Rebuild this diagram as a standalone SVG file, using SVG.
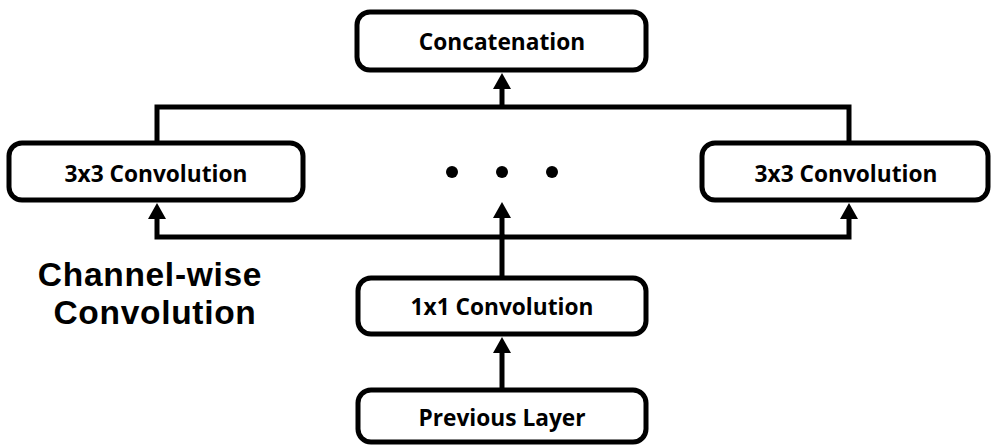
<svg xmlns="http://www.w3.org/2000/svg" width="992" height="445" viewBox="0 0 992 445">
  <style>
    .box { fill: #ffffff; stroke: #000000; stroke-width: 5; }
    .lbl { font-family: "Open Sans", "Liberation Sans", sans-serif; font-weight: bold; font-size: 22.7px; fill: #000000; text-anchor: middle; }
    .big { font-family: "Liberation Sans", Arial, sans-serif; font-weight: bold; font-size: 33.5px; letter-spacing: 0.7px; fill: #000000; text-anchor: middle; }
    .wire { fill: none; stroke: #000000; stroke-width: 5; }
  </style>
  <defs>
    <marker id="arrow" markerUnits="userSpaceOnUse" markerWidth="17" markerHeight="18" refX="1" refY="9" orient="auto">
      <path d="M0,0 L16,9 L0,18 Z" fill="#000000"/>
    </marker>
  </defs>

  <g id="connectors">
    <path class="wire" d="M157,143 V107 H849 V143"/>
    <path class="wire" d="M502,107 V88" marker-end="url(#arrow)"/>
    <path class="wire" d="M502,276 V237 H157 V218" marker-end="url(#arrow)"/>
    <path class="wire" d="M502,237 H849 V218" marker-end="url(#arrow)"/>
    <path class="wire" d="M502,237 V217" marker-end="url(#arrow)"/>
    <path class="wire" d="M502,388 V352" marker-end="url(#arrow)"/>
  </g>

  <g id="concatenation">
    <rect class="box" x="357" y="12" width="289" height="58" rx="13"/>
    <text class="lbl" x="502" y="50">Concatenation</text>
  </g>

  <g id="conv3x3-left">
    <rect class="box" x="9" y="143" width="294" height="57" rx="13"/>
    <text class="lbl" x="156" y="182">3x3 Convolution</text>
  </g>

  <g id="ellipsis">
    <circle cx="452" cy="172" r="6"/>
    <circle cx="502" cy="172" r="6"/>
    <circle cx="552" cy="172" r="6"/>
  </g>

  <g id="conv3x3-right">
    <rect class="box" x="702" y="143" width="286" height="57" rx="13"/>
    <text class="lbl" x="846" y="182">3x3 Convolution</text>
  </g>

  <g id="channel-wise-label">
    <text class="big"><tspan x="150" y="286">Channel-wise</tspan><tspan x="155" y="324">Convolution</tspan></text>
  </g>

  <g id="conv1x1">
    <rect class="box" x="358" y="278" width="288" height="56" rx="13"/>
    <text class="lbl" x="502" y="315">1x1 Convolution</text>
  </g>

  <g id="previous-layer">
    <rect class="box" x="358" y="390" width="288" height="52" rx="13"/>
    <text class="lbl" x="502" y="426">Previous Layer</text>
  </g>
</svg>
